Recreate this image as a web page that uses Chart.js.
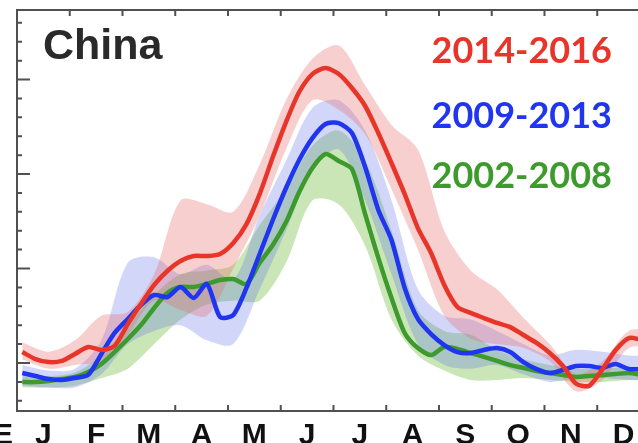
<!DOCTYPE html>
<html>
<head>
<meta charset="utf-8">
<script src="https://cdn.jsdelivr.net/npm/chart.js@4.4.1/dist/chart.umd.min.js"></script>
<style>
  html, body { margin: 0; padding: 0; background: #fff; overflow: hidden; }
  canvas { display: block; }
</style>
</head>
<body>
<canvas id="chinaChart" width="638" height="443"></canvas>
<script>
// month labels under the axis (the first one is cut off at the left edge)
let monthLabels = ['E', 'J', 'F', 'M', 'A', 'M', 'J', 'J', 'A', 'S', 'O', 'N', 'D'];
let seriesNames = ['2014-2016', '2009-2013', '2002-2008'];

// time in months from 1 Jan
let tLine = [0.1, 0.35, 0.6, 0.85, 1.1, 1.35, 1.6, 1.85, 2.1, 2.35, 2.6, 2.85,
             3.1, 3.35, 3.6, 3.85, 4.1, 4.35, 4.6, 4.85, 5.1, 5.35, 5.6, 5.85,
             6.1, 6.35, 6.6, 6.85, 7.1, 7.35, 7.6, 7.85, 8.1, 8.35, 8.6, 8.85,
             9.1, 9.35, 9.6, 9.85, 10.1, 10.35, 10.6, 10.85, 11.1, 11.35, 11.6, 11.85];

let red = [0.58, 0.21, 0.05, 0.11, 0.48, 0.85, 0.69, 0.90, 2.06, 3.12, 4.13, 4.87,
           5.40, 5.66, 5.66, 5.77, 6.35, 7.35, 8.94, 10.90, 12.75, 14.34, 15.29, 15.61,
           15.29, 14.55, 13.60, 12.17, 10.58, 8.94, 7.14, 5.82, 4.13, 2.96, 2.65, 2.38,
           2.12, 1.90, 1.48, 1.06, 0.53, -0.16, -1.1, -1.2, -0.32, 0.69, 1.32, 1.22];
let blue = [-0.53, -0.69, -0.85, -0.90, -0.79, -0.63, 0.48, 1.59, 2.33, 3.07, 3.60, 3.49,
            4.02, 3.44, 4.18, 2.43, 2.54, 3.97, 5.77, 7.57, 9.26, 10.74, 11.90, 12.65,
            12.70, 12.17, 10.37, 8.10, 6.51, 3.97, 2.33, 1.53, 0.95, 0.58, 0.53, 0.69,
            0.79, 0.58, 0.05, -0.32, -0.53, -0.37, -0.16, -0.16, -0.26, -0.05, -0.32, -0.32];
let green = [-1.01, -1.01, -0.95, -0.85, -0.74, -0.48, -0.05, 0.58, 1.27, 2.01, 2.91, 3.70,
             4.02, 4.02, 4.18, 4.39, 4.44, 4.18, 5.29, 6.24, 7.46, 9.05, 10.32, 11.06,
             10.69, 10.26, 7.88, 5.56, 3.44, 1.59, 0.79, 0.42, 0.85, 0.74, 0.53, 0.32,
             0.11, -0.11, -0.26, -0.42, -0.53, -0.63, -0.74, -0.69, -0.63, -0.58, -0.53, -0.63];

// spread bands, sampled every half month
let tBand = [0.1, 0.6, 1.1, 1.6, 2.1, 2.6, 3.1, 3.6, 4.1, 4.6, 5.1, 5.6, 6.1,
             6.6, 7.1, 7.6, 8.1, 8.6, 9.1, 9.6, 10.1, 10.6, 11.1, 11.6, 12.1];
let redHi = [1.1, 0.6, 1.2, 2.5, 2.7, 4.7, 8.6, 8.4, 8.0, 10.5, 13.9, 16.1, 16.8,
             14.7, 12.6, 11.3, 7.0, 4.9, 3.9, 2.4, 1.0, -0.6, 0.1, 1.7, 1.7];
let redLo = [0.2, -0.3, -0.1, 0.1, 1.5, 3.3, 2.8, 2.5, 5.0, 7.8, 11.3, 13.9, 13.4,
             12.1, 9.2, 6.0, 2.5, 1.3, 1.0, 0.8, 0.1, -1.5, -0.9, 0.8, 0.8];
let blueHi = [-0.1, -0.4, -0.3, 1.2, 5.3, 5.6, 4.7, 5.2, 4.4, 7.8, 10.7, 13.5, 13.9,
              12.3, 8.6, 3.9, 2.5, 2.3, 1.7, 1.0, 0.4, 0.7, 0.6, 0.4, 0.4];
let blueLo = [-1.2, -1.3, -1.3, -0.6, 1.0, 1.7, 2.0, 1.2, 1.0, 3.9, 7.0, 10.2, 11.3,
              8.6, 4.7, 1.0, -0.1, -0.3, -0.1, -0.6, -1.0, -0.8, -0.8, -0.9, -0.9];
let greenHi = [-0.7, -0.7, -0.5, 0.4, 2.0, 3.6, 4.7, 4.9, 5.2, 7.3, 9.2, 11.5, 12.3,
               10.7, 7.0, 2.8, 1.7, 1.5, 0.7, 0.2, -0.1, -0.3, -0.3, -0.2, -0.2];
let greenLo = [-1.3, -1.3, -1.2, -0.8, -0.3, 1.0, 2.3, 3.1, 3.3, 3.3, 5.3, 8.6, 8.4,
               6.2, 2.3, 0.4, -0.4, -0.9, -0.9, -0.8, -0.9, -1.0, -1.0, -0.9, -0.9];

let lineColors = ['#e8352a', '#1f35ef', '#3d9a2c'];
let bandColors = ['rgba(232,95,95,0.3)', 'rgba(95,110,235,0.28)', 'rgba(115,190,65,0.38)'];

function pts(xs, ys) {
    return xs.map(function (x, i) { return { x: x, y: ys[i] }; });
}

function band(ys, color, fill) {
    return {
        data: pts(tBand, ys),
        borderWidth: 0,
        pointRadius: 0,
        tension: 0.3,
        backgroundColor: color,
        fill: fill,
        order: 2
    };
}

function line(ys, color) {
    return {
        data: pts(tLine, ys),
        borderColor: color,
        borderWidth: 4.5,
        pointRadius: 0,
        tension: 0.25,
        fill: false,
        order: 0
    };
}

// axes frame, ticks and texts
let framePlugin = {
    id: 'frame',
    afterDraw: function (chart) {
        let ctx = chart.ctx;
        let xs = chart.scales.x;
        let ys = chart.scales.y;
        let a = chart.chartArea;
        ctx.save();
        ctx.strokeStyle = '#505050';
        ctx.lineWidth = 2;
        ctx.beginPath();
        ctx.moveTo(a.left, a.top);
        ctx.lineTo(a.right, a.top);
        ctx.moveTo(a.left, a.top - 1);
        ctx.lineTo(a.left, a.bottom + 1);
        ctx.moveTo(a.left, a.bottom);
        ctx.lineTo(a.right, a.bottom);
        for (let m = 1; m <= 12; m++) {
            let px = xs.getPixelForValue(m);
            ctx.moveTo(px, a.top);
            ctx.lineTo(px, a.top + 6);
            ctx.moveTo(px, a.bottom);
            ctx.lineTo(px, a.bottom - 6);
        }
        for (let v = -2; v <= 18; v++) {
            let py = ys.getPixelForValue(v);
            ctx.moveTo(a.left, py);
            ctx.lineTo(a.left + (v % 5 === 0 ? 13 : 5), py);
        }
        ctx.stroke();

        ctx.fillStyle = '#111';
        ctx.font = 'bold 30px "Liberation Sans", Arial, sans-serif';
        ctx.textAlign = 'center';
        ctx.textBaseline = 'alphabetic';
        monthLabels.forEach(function (lab, i) {
            let px = i === 0 ? 3 : xs.getPixelForValue(i - 0.5);
            ctx.fillText(lab, px, 444);
        });

        ctx.fillStyle = '#2a2a2a';
        ctx.font = 'bold 43px "Liberation Sans", Arial, sans-serif';
        ctx.textAlign = 'left';
        ctx.fillText('China', 43, 59);

        ctx.font = 'bold 36px Lato, "Open Sans", sans-serif';
        ctx.textAlign = 'right';
        let baselines = [63, 128, 188];
        seriesNames.forEach(function (name, i) {
            ctx.fillStyle = lineColors[i];
            ctx.fillText(name, 612, baselines[i]);
        });
        ctx.restore();
    }
};

new Chart('chinaChart', {
    type: 'line',
    data: {
        datasets: [
            band(redHi, bandColors[0], '+1'),
            band(redLo, bandColors[0], false),
            band(blueHi, bandColors[1], '+1'),
            band(blueLo, bandColors[1], false),
            band(greenHi, bandColors[2], '+1'),
            band(greenLo, bandColors[2], false),
            line(red, lineColors[0]),
            line(blue, lineColors[1]),
            line(green, lineColors[2])
        ]
    },
    options: {
        responsive: false,
        animation: false,
        devicePixelRatio: 1,
        layout: { padding: { left: 17, right: 0, top: 10, bottom: 32 } },
        scales: {
            x: { type: 'linear', min: 0, max: 11.773, display: false },
            y: { type: 'linear', min: -2.54, max: 18.68, display: false }
        },
        plugins: {
            legend: { display: false },
            tooltip: { enabled: false }
        }
    },
    plugins: [framePlugin]
});
</script>
</body>
</html>
